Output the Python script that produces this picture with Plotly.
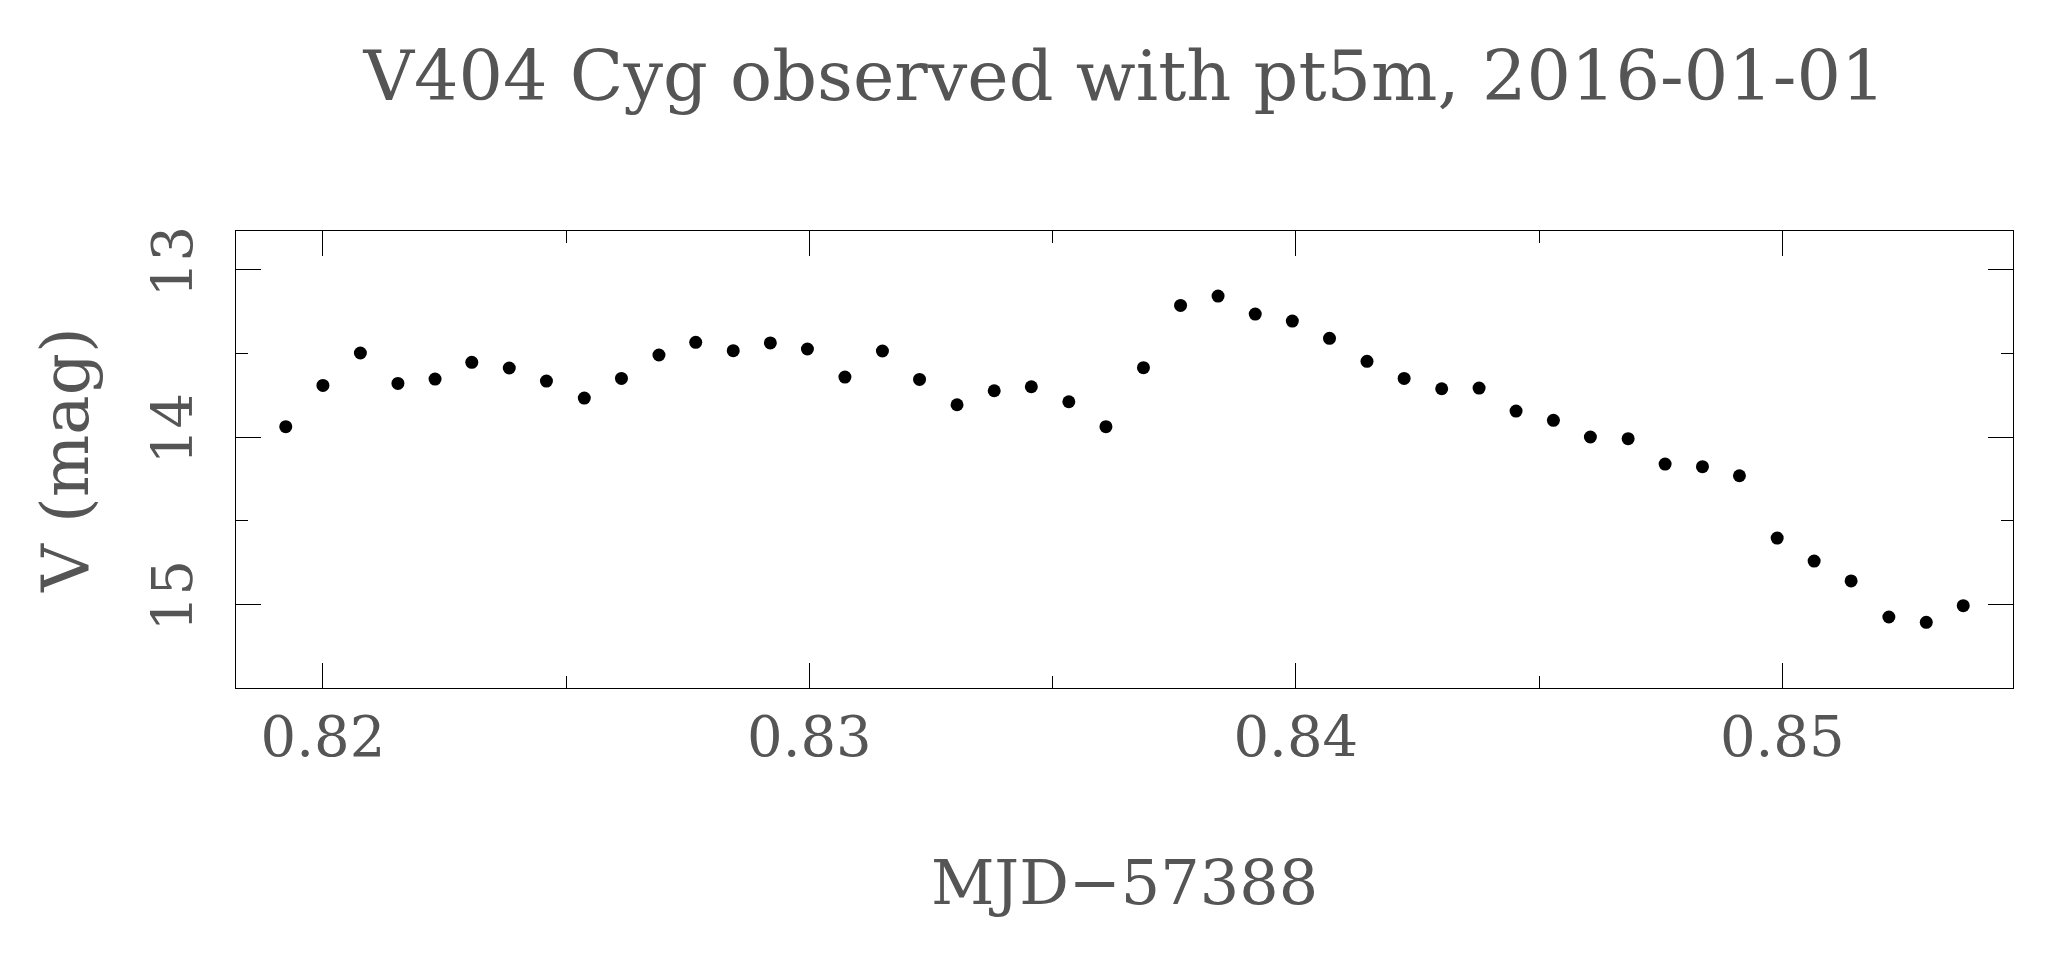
import plotly.graph_objects as go

# MJD - 57388 (days)
mjd = [0.819236, 0.820000, 0.820770, 0.821542, 0.822305, 0.823060, 0.823831, 0.824595,
       0.825373, 0.826137, 0.826908, 0.827664, 0.828435, 0.829198, 0.829960,
       0.830731, 0.831502, 0.832265, 0.833036, 0.833800, 0.834563, 0.835334, 0.836097,
       0.836868, 0.837631, 0.838402, 0.839166, 0.839929, 0.840693, 0.841464, 0.842227,
       0.842999, 0.843768, 0.844528, 0.845296, 0.846056, 0.846832, 0.847592, 0.848360,
       0.849120, 0.849896, 0.850656, 0.851416, 0.852192, 0.852961, 0.853721]
# V magnitude
vmag = [13.938, 13.691, 13.497, 13.679, 13.653, 13.553, 13.587, 13.665,
        13.767, 13.649, 13.509, 13.433, 13.483, 13.437, 13.473,
        13.641, 13.485, 13.655, 13.807, 13.723, 13.699, 13.789, 13.938,
        13.585, 13.212, 13.156, 13.264, 13.306, 13.409, 13.547, 13.649,
        13.711, 13.707, 13.845, 13.900, 14.000, 14.010, 14.162, 14.178,
        14.232, 14.605, 14.743, 14.862, 15.078, 15.110, 15.010]

title_text = "V404 Cyg observed with pt5m, 2016-01-01"
x_title = "MJD\u221257388"
y_title = "V (mag)"

FONT = "DejaVu Serif"
TXT = "#555555"

W, H = 2045, 956  # page has an 8px body margin

fig = go.Figure()
fig.add_trace(go.Scatter(
    x=mjd, y=vmag, mode="markers",
    marker=dict(color="black", size=13, line=dict(width=0)),
    showlegend=False, hoverinfo="x+y",
))

axis_common = dict(
    showline=True, linecolor="black", linewidth=1, mirror="ticks",
    ticks="inside", ticklen=25, tickwidth=1, tickcolor="black",
    showgrid=False, zeroline=False,
    tickfont=dict(family=FONT, size=56, color=TXT),
)

fig.update_layout(
    width=W, height=H,
    paper_bgcolor="white", plot_bgcolor="white",
    margin=dict(l=228, r=40, t=223, b=276),
    title=dict(text=title_text, x=0.5, xref="paper", xanchor="center",
               y=1 - 43 / H, yref="container", yanchor="top",
               font=dict(family=FONT, size=70, color=TXT)),
    xaxis=dict(
        **axis_common,
        range=[0.818213, 0.854744], tick0=0.82, dtick=0.01,
        minor=dict(ticks="inside", ticklen=12, dtick=0.005, tickcolor="black", tickwidth=1),
        ticklabelstandoff=0,
        title=dict(text=x_title, standoff=92, font=dict(family=FONT, size=62, color=TXT)),
    ),
    yaxis=dict(
        **axis_common,
        range=[15.503, 12.7665], tick0=13, dtick=1, tickangle=-90,
        minor=dict(ticks="inside", ticklen=12, dtick=0.5, tickcolor="black", tickwidth=1),
        ticklabelstandoff=21,
        title=dict(text=y_title, standoff=29, font=dict(family=FONT, size=66, color=TXT)),
    ),
)

fig.write_html("out.html")
